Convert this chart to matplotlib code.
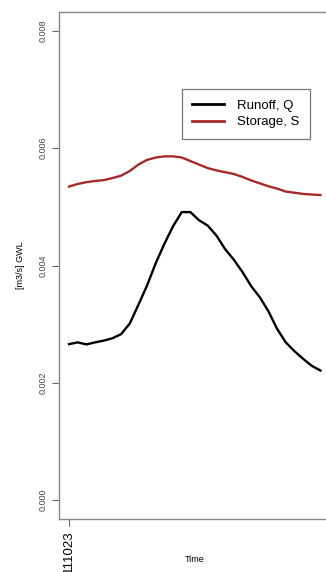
import matplotlib
matplotlib.use('Agg')
import matplotlib.pyplot as plt
import matplotlib.dates as mdates
import numpy as np
import pandas as pd

plt.rcParams['font.family'] = ['Liberation Sans', 'DejaVu Sans']

# daily series starting 2011-10-23
dates = pd.date_range('2011-10-23', periods=30, freq='D')
runoff_q = [0.00266, 0.00269, 0.002655, 0.00269, 0.00272, 0.00276, 0.00283, 0.00301,
            0.00333, 0.00366, 0.00404, 0.00437, 0.00467, 0.00491, 0.00491, 0.00477,
            0.00468, 0.00451, 0.00428, 0.00410, 0.00389, 0.00365, 0.00346, 0.00322,
            0.00292, 0.00269, 0.00254, 0.00241, 0.00229, 0.00221]
storage_s = [0.005345, 0.00539, 0.00542, 0.00544, 0.005455, 0.00549, 0.00553, 0.00561,
             0.00572, 0.00580, 0.00584, 0.00586, 0.00586, 0.00584, 0.00578, 0.00572,
             0.00566, 0.00562, 0.00559, 0.00556, 0.00551, 0.00545, 0.00540, 0.00535,
             0.00531, 0.00526, 0.00524, 0.00522, 0.00521, 0.00520]
y_ticks = [0.000, 0.002, 0.004, 0.006, 0.008]

W, H = 326, 572
fig = plt.figure(figsize=(W / 100, H / 100), dpi=100)
# plot region runs past the right edge of the image
ax = fig.add_axes([59 / W, 53 / H, 271.5 / W, 507 / H])

ax.plot(dates, runoff_q, color='black', lw=1.7, label='Runoff, Q')
ax.plot(dates, storage_s, color='#A52A2A', lw=1.7, label='Storage, S')

span = dates[-1] - dates[0]
ax.set_xlim(dates[0] - span * 0.04, dates[-1] + span * 0.04)
ax.set_ylim(-0.008 * 0.04, 0.008 * 1.04)

ax.set_yticks(y_ticks)
ax.set_yticklabels(['%.3f' % v for v in y_ticks], rotation=90, va='center',
                   fontsize=6.5, color='#444444')
ax.set_xticks([dates[0]])
ax.xaxis.set_major_formatter(mdates.DateFormatter('%y%m%d'))
plt.setp(ax.get_xticklabels(), rotation=90, fontsize=9.5, color='black')

for side in ['top', 'left', 'bottom']:
    ax.spines[side].set_color('#888888')
    ax.spines[side].set_linewidth(1.0)
ax.spines['right'].set_visible(False)
ax.tick_params(axis='both', colors='#666666', length=5, width=0.8, pad=3)
ax.tick_params(axis='y', labelcolor='#444444')
ax.tick_params(axis='x', labelcolor='black')

ax.set_ylabel('[m3/s] GWL', fontsize=6.5)
ax.yaxis.set_label_coords((25 - 59) / 271.5, 0.5)
ax.set_xlabel('Time', fontsize=6.5, va='center')
ax.xaxis.set_label_coords(0.5, (12 - 53) / 507)

leg = ax.legend(loc='upper left', bbox_to_anchor=((181.7 - 59) / 271.5, (519 - 89.3) / 507),
                fontsize=9.5, frameon=True, fancybox=False, handlelength=2.4,
                handletextpad=1.0, borderpad=0.8, labelspacing=0.3, borderaxespad=0)
leg.get_frame().set_edgecolor('#555555')
leg.get_frame().set_linewidth(0.9)
for line in leg.get_lines():
    line.set_linewidth(2.0)

fig.savefig('out.png', dpi=100)
